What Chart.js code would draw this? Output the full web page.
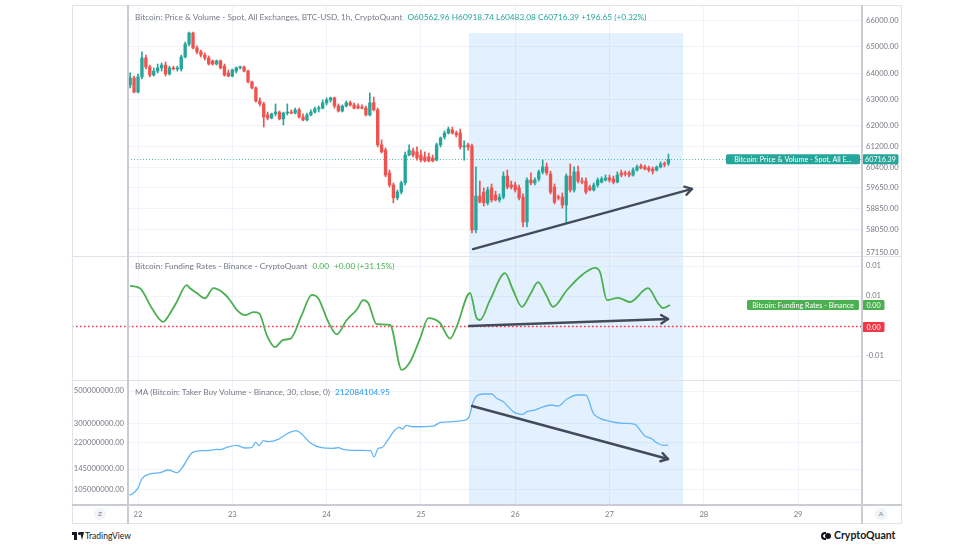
<!DOCTYPE html>
<html><head><meta charset="utf-8">
<script src="https://cdn.jsdelivr.net/npm/chart.js@4.4.1/dist/chart.umd.min.js"></script>
<style>
body{margin:0;background:#fff;width:975px;height:548px;position:relative;overflow:hidden;font-family:Lato,'Noto Sans',sans-serif}
canvas{position:absolute;display:block}
.hdr{position:absolute;white-space:nowrap;font-size:8.3px;color:#787b86;line-height:10px}
.ln{position:absolute;pointer-events:none}
.btn{position:absolute;width:12px;height:12px;border-radius:50%;background:#f0f3fa;color:#787b86;font-size:6.5px;line-height:12px;text-align:center}
</style></head><body>
<canvas id="cPrice" width="830" height="251" style="left:72px;top:5px"></canvas>
<canvas id="cFund" width="830" height="124" style="left:72px;top:256px"></canvas>
<canvas id="cVol" width="830" height="143" style="left:72px;top:380px"></canvas>

<div class="ln" style="left:72px;top:5px;width:830px;height:1px;background:#e0e3eb"></div>
<div class="ln" style="left:72px;top:523px;width:830px;height:1px;background:#e0e3eb"></div>
<div class="ln" style="left:72px;top:5px;width:1px;height:519px;background:#e0e3eb"></div>
<div class="ln" style="left:901px;top:5px;width:1px;height:519px;background:#e0e3eb"></div>
<div class="ln" style="left:72px;top:256px;width:830px;height:1px;background:#e0e3eb"></div>
<div class="ln" style="left:72px;top:380px;width:830px;height:1px;background:#e0e3eb"></div>
<div class="ln" style="left:72px;top:504px;width:830px;height:2px;background:#c9ccd3"></div>
<div class="ln" style="left:127px;top:5px;width:2px;height:519px;background:#c9ccd3"></div>
<div class="ln" style="left:861px;top:5px;width:2px;height:519px;background:#c9ccd3"></div>

<div class="btn" style="left:94px;top:508px">Z</div>
<div class="btn" style="left:875px;top:508px">A</div>

<div class="hdr" style="left:135px;top:12px">Bitcoin: Price &amp; Volume - Spot, All Exchanges, BTC-USD, 1h, CryptoQuant<span style="color:#26a69a;margin-left:5px">O60562.96 H60918.74 L60483.08 C60716.39 +196.65 (+0.32%)</span></div>
<div class="hdr" style="left:135px;top:261px">Bitcoin: Funding Rates - Binance - CryptoQuant<span style="color:#4caf50;margin-left:5px">0.00</span><span style="color:#4caf50;margin-left:5px">+0.00 (+31.15%)</span></div>
<div class="hdr" style="left:135px;top:387px">MA (Bitcoin: Taker Buy Volume - Binance, 30, close, 0)<span style="color:#2196f3;margin-left:5px">212084104.95</span></div>

<div style="position:absolute;left:72px;top:531px;height:10px;width:12px">
  <div style="position:absolute;left:0;top:1px;width:5px;height:3px;background:#131722"></div>
  <div style="position:absolute;left:2px;top:1px;width:3px;height:8px;background:#131722"></div>
  <div style="position:absolute;left:5.5px;top:1px;width:3px;height:3px;border-radius:50%;background:#131722"></div>
  <div style="position:absolute;left:6px;top:1px;width:0;height:0;border-left:2.5px solid transparent;border-right:2.5px solid transparent;border-top:8px solid #131722;transform:translateX(2px)"></div>
</div>
<div style="position:absolute;left:85px;top:530px;font-size:8.5px;color:#131722;line-height:12px">TradingView</div>
<div style="position:absolute;left:821px;top:531px;width:11px;height:10px">
  <div style="position:absolute;left:0;top:1px;width:5px;height:8px;border-radius:5px 0 0 5px;border:2px solid #131722;border-right:none;box-sizing:border-box"></div>
  <div style="position:absolute;left:4px;top:2px;width:6px;height:6px;border-radius:50%;background:#131722"></div>
</div>
<div style="position:absolute;left:834px;top:529px;font-size:10.5px;color:#131722;line-height:13px;font-weight:bold">CryptoQuant</div>

<script>
const FONT = 'Lato, "Noto Sans", sans-serif';
const UP = '#26a69a', DOWN = '#ef5350', GRID = '#f0f3fa', AXIS_TEXT = '#787b86';

// x axis: hours since 22 00:00
const dayLabels = ['22','23','24','25','26','27','28','29'];
const dayTickHours = [0,24,48,72,96,120,144,168];
const firstCandleHour = -2;

const open = [
63550,63820,63280,63860,64580,64240,63930,64080,64200,64310,
63970,64200,64160,64160,64620,65110,65530,64960,64810,64690,
64580,64470,64350,64470,64270,64010,63890,64080,64200,64240,
64080,63670,63440,62940,62830,62410,62290,62450,62520,62260,
62480,62520,62480,62600,62330,62220,62410,62520,62640,62670,
62870,62980,63060,62750,62560,62750,62870,62790,62750,62710,
62670,62410,62870,62600,61270,61070,60200,59740,59250,59470,
59820,60880,61040,61000,60880,60810,60810,60770,60690,61270,
61570,61720,61840,61720,61720,61190,61270,61230,58030,59320,
59470,59060,59630,59360,59170,59280,60080,59740,59740,59630,
59280,58330,59930,59820,59970,60240,60430,60160,59660,59280,
59280,58980,60080,59550,60240,59890,59890,59660,59550,59740,
59850,59930,60010,59970,59850,60200,60200,60200,60120,60310,
60460,60430,60390,60350,60310,60430,60540,60562.96];
const high = [
64010,63890,63970,64810,64690,64310,64200,64350,64390,64430,
64270,64270,64270,64690,65190,65570,65570,65040,64880,64770,
64660,64500,64500,64500,64350,64120,64160,64240,64270,64270,
64120,63700,63480,63060,62900,62520,62480,62830,62560,62520,
62830,62600,62670,62670,62450,62480,62600,62710,62750,62980,
63060,63090,63090,62830,62790,62940,62940,62870,62830,62790,
62750,63250,63090,62670,61460,61150,60310,59820,59550,59890,
61000,61270,61150,61190,61070,61000,60960,60880,61340,61570,
61800,61950,61950,61800,61870,61420,61340,61300,60430,59890,
59630,59660,59780,59510,59400,60240,60310,59890,59850,59740,
59400,60010,60200,60010,60310,60690,60580,60270,59780,59360,
59440,60160,60540,60430,60460,60010,60010,59740,59820,60010,
60050,60120,60120,60080,60240,60310,60270,60270,60390,60500,
60540,60500,60460,60430,60460,60620,60620,60918.74];
const low = [
63440,63250,63250,63780,64160,63860,63890,64010,64080,63890,
63930,64120,64080,64080,64580,65040,64920,64730,64620,64500,
64310,64310,64310,64160,63890,63860,63860,64010,64160,64050,
63630,63400,62900,62750,61950,62220,62260,62370,62220,62030,
62410,62450,62450,62290,62180,62180,62370,62480,62520,62640,
62790,62900,62670,62520,62520,62710,62750,62640,62640,62640,
62370,62370,62560,61190,60960,60050,59660,59060,59170,59400,
59740,60850,60810,60690,60620,60620,60620,60620,60660,61190,
61490,61680,61680,61570,61110,60690,61070,57910,57910,59060,
58940,58980,59090,59130,59090,59210,59590,59590,59470,59170,
58140,58140,59740,59740,59890,60160,60120,59400,59020,59170,
58860,58290,59470,59470,59820,59780,59400,59510,59510,59660,
59820,59890,59850,59780,59820,60050,60080,60050,60080,60270,
60350,60310,60240,60160,60270,60390,60430,60483.08];
const close = [
63820,63280,63860,64580,64240,63930,64080,64200,64310,63970,
64200,64160,64200,64620,65110,65530,64960,64810,64690,64580,
64350,64350,64470,64200,63930,63890,64120,64200,64240,64080,
63670,63440,62940,62830,62330,62290,62450,62520,62260,62480,
62520,62480,62600,62330,62220,62410,62520,62640,62670,62870,
62980,63060,62750,62560,62750,62870,62790,62670,62670,62670,
62410,62870,62600,61270,61000,60120,59740,59250,59470,59820,
60880,61070,60880,60770,60690,60660,60660,60660,61270,61530,
61720,61870,61720,61650,61190,61230,61190,58030,59320,59090,
59060,59550,59170,59170,59280,60080,59660,59660,59550,59250,
58330,59930,59820,59930,60240,60430,60200,59470,59090,59250,
58980,60080,59550,60240,59890,59850,59470,59550,59740,59930,
59970,60010,59930,59850,60120,60120,60160,60120,60310,60430,
60390,60350,60310,60270,60430,60540,60519.74,60716.39];
const priceTicks = [66000,65000,64000,63000,62000,61200,60400,59650,58850,58050,57150];

const fundingHours = [-2.04,0.51,3.49,6.44,8.14,9.85,12.39,13.23,14.94,17.05,19.17,21.71,23.42,25.12,27.23,29.35,30.87,32.76,34.87,36.98,38.86,41.66,44.21,45.89,48.43,50.57,53.12,55.66,57.34,58.62,60.75,64.14,67.12,69.23,71.77,73.89,76.86,79.41,81.11,84.5,86.2,87.04,89.59,93.41,95.44,97.73,99.77,101.81,103.84,105.62,109.19,113.0,116.31,117.58,119.37,122.17,125.22,129.8,132.35,133.62,135.4];
const fundingRates = [0.0067,0.0063,0.0030,0.0007,0.0021,0.0040,0.0068,0.0063,0.0055,0.0046,0.0063,0.0055,0.0043,0.0027,0.0018,0.0023,0.0021,-0.0015,-0.0035,-0.0023,-0.0021,0.0018,0.0052,0.0046,0.0007,-0.0014,0.0010,0.0027,0.0043,0.0038,0.0003,0.0002,-0.0073,-0.0060,-0.0021,0.0013,0.0005,-0.0021,-0.0001,0.0055,0.0013,0.0010,0.0043,0.0088,0.0060,0.0032,0.0052,0.0073,0.0052,0.0032,0.0060,0.0085,0.0097,0.0090,0.0043,0.0047,0.0040,0.0063,0.0038,0.0030,0.0035];
const fundingTicks = [0.01,0.005,0,-0.005];

const volumeHours = [-2.21,-1.2,0.08,0.94,3.05,5.6,7.71,10.0,11.12,13.92,16.21,18.33,20.03,20.87,22.58,24.94,27.23,28.94,29.96,30.8,31.89,33.16,35.71,37.85,40.21,41.66,43.78,46.75,49.71,50.98,52.25,54.8,56.94,59.23,60.07,61.16,62.03,63.3,65.16,66.51,67.37,68.21,70.07,75.16,77.04,80.25,82.39,84.07,85.34,86.21,87.89,90.02,91.3,92.98,95.52,96.39,97.91,98.93,101.04,102.75,105.29,106.97,109.11,111.66,113.77,114.36,115.88,117.59,120.13,123.52,126.5,127.77,129.04,130.75,132.02,133.7,134.97];
const volumeValues = [95.9e6,98.6e6,108.4e6,123.7e6,134.0e6,136.7e6,142.7e6,136.7e6,146.6e6,189.0e6,193.8e6,195.1e6,198.2e6,197.0e6,204.6e6,211.2e6,202.4e6,203.3e6,221.5e6,209.9e6,227.2e6,223.6e6,232.3e6,252.7e6,266.3e6,252.7e6,220.1e6,203.3e6,201.4e6,203.3e6,198.2e6,195.1e6,195.1e6,193.8e6,175.4e6,201.4e6,203.3e6,223.6e6,265.0e6,281.0e6,273.6e6,290.2e6,283.6e6,286.8e6,304.3e6,307.2e6,312.0e6,324.2e6,421.8e6,461.8e6,476.7e6,476.7e6,445.3e6,421.8e6,360.0e6,351.0e6,345.4e6,360.0e6,369.8e6,385.9e6,400.3e6,394.0e6,438.3e6,469.3e6,469.3e6,456.8e6,351.0e6,324.2e6,309.1e6,299.4e6,294.7e6,269.2e6,244.8e6,234.5e6,220.1e6,211.2e6,212084104.95];
const volumeTicks = [500000000,300000000,220000000,145000000,105000000];

// annotations (drawn objects)
const highlightHours = [84.25, 138.7];
const highlightTopPrice = 65530;
const priceArrowHours = [85.26, 141.0], priceArrowValues = [57300, 59590];
const fundingArrowHours = [84.25, 134.9], fundingArrowValues = [0, 0.00117];
const volumeArrowHours = [85.0, 134.9], volumeArrowValues = [394e6, 170e6];

// view ranges
const X_MIN = -2.55, X_MAX = 184.27;
const P_MIN = 57035, P_MAX = 66598;
const F_MIN = -0.009, F_MAX = 0.011667;
const V_MIN = 81.9e6, V_MAX = 595.4e6;

Chart.defaults.font.family = FONT;
Chart.defaults.color = AXIS_TEXT;

function xAxis(showLabels){
  return {
    type:'linear', min:X_MIN, max:X_MAX, offset:false,
    grid:{color:GRID, drawTicks:false, offset:false},
    border:{display:false},
    ticks:{display:showLabels, autoSkip:false, maxRotation:0, padding:5, color:AXIS_TEXT, font:{size:7.6},
      callback:(v,i)=>dayLabels[i]},
    afterBuildTicks:s=>{ s.ticks = dayTickHours.map(v=>({value:v})); },
    afterFit:s=>{ s.height = showLabels ? 18 : 0; s.paddingLeft = 0; s.paddingRight = 0; }
  };
}
function yAxis(position, type, min, max, ticks, width){
  return {
    type, position, min, max,
    grid:{color:GRID, drawTicks:false},
    border:{display:false},
    ticks:{padding:4, color:AXIS_TEXT, font:{size:7.6}, autoSkip:false, callback:v=>Number(v).toFixed(2)},
    afterBuildTicks:s=>{ s.ticks = ticks.map(v=>({value:v})); },
    afterFit:s=>{ s.width = width; s.paddingTop = 0; s.paddingBottom = 0; }
  };
}
const base = {responsive:false, animation:false, devicePixelRatio:1, events:[]};
const noPlug = {legend:{display:false}, tooltip:{enabled:false}};

function roundRect(ctx,x,y,w,h,r){
  ctx.beginPath(); ctx.moveTo(x+r,y); ctx.lineTo(x+w-r,y); ctx.quadraticCurveTo(x+w,y,x+w,y+r);
  ctx.lineTo(x+w,y+h-r); ctx.quadraticCurveTo(x+w,y+h,x+w-r,y+h); ctx.lineTo(x+r,y+h);
  ctx.quadraticCurveTo(x,y+h,x,y+h-r); ctx.lineTo(x,y+r); ctx.quadraticCurveTo(x,y,x+r,y); ctx.closePath();
}
function tag(ctx,x,yc,w,bg,text){
  ctx.save(); ctx.fillStyle=bg; roundRect(ctx,x,yc-5,w,10,1.5); ctx.fill();
  ctx.fillStyle='#fff'; ctx.font='7.2px '+FONT; ctx.textAlign='center'; ctx.textBaseline='middle';
  ctx.fillText(text,x+w/2,yc+0.5); ctx.restore();
}
function makeHighlight(topValue){
  return {id:'hl', beforeDatasetsDraw(chart){
    const {ctx, chartArea:a, scales} = chart;
    const x0 = scales.x.getPixelForValue(highlightHours[0]), x1 = scales.x.getPixelForValue(highlightHours[1]);
    const yTop = topValue!=null ? scales.y.getPixelForValue(topValue) : a.top;
    ctx.save(); ctx.fillStyle='rgba(33,150,243,0.13)'; ctx.fillRect(x0,yTop,x1-x0,a.bottom-yTop); ctx.restore();
  }};
}
const arrowHeads = {id:'arrowHeads', afterDatasetsDraw(chart){
  const ctx = chart.ctx;
  chart.data.datasets.forEach((ds,i)=>{
    if(!ds.isArrow) return;
    const pts = chart.getDatasetMeta(i).data;
    const p0 = pts[pts.length-2], p1 = pts[pts.length-1];
    const ang = Math.atan2(p1.y-p0.y, p1.x-p0.x), L = 8;
    ctx.save(); ctx.strokeStyle = ds.borderColor; ctx.lineWidth = ds.borderWidth; ctx.lineCap='round'; ctx.lineJoin='round';
    ctx.beginPath();
    ctx.moveTo(p1.x - L*Math.cos(ang-0.55), p1.y - L*Math.sin(ang-0.55));
    ctx.lineTo(p1.x, p1.y);
    ctx.lineTo(p1.x - L*Math.cos(ang+0.55), p1.y - L*Math.sin(ang+0.55));
    ctx.stroke(); ctx.restore();
  });
}};
function arrowDataset(hours, values){
  return {type:'line', isArrow:true, data:hours.map((h,i)=>({x:h,y:values[i]})),
    borderColor:'#434b5a', borderWidth:2.4, pointRadius:0, tension:0, borderCapStyle:'round', order:-5};
}

// ---- price chart ----
const n = close.length;
const candleIdx = close.map((_,i)=>i);
const colorOf = i => close[i] >= open[i] ? UP : DOWN;
const lastClose = close[n-1];
new Chart(document.getElementById('cPrice'), {
  type:'bar',
  data:{datasets:[
    {label:'wicks', data:candleIdx.map(i=>({x:firstCandleHour+i, y:[low[i],high[i]]})),
      backgroundColor:ctx=>colorOf(ctx.dataIndex), barThickness:1, grouped:false, order:2, minBarLength:1},
    {label:'bodies', data:candleIdx.map(i=>({x:firstCandleHour+i, y:[open[i],close[i]]})),
      backgroundColor:ctx=>colorOf(ctx.dataIndex), barThickness:2.7, grouped:false, order:1, minBarLength:1},
    arrowDataset(priceArrowHours, priceArrowValues)
  ]},
  options:Object.assign({}, base, {
    layout:{padding:{left:56, right:0, top:0, bottom:0}},
    plugins:noPlug,
    scales:{x:xAxis(false), y:yAxis('right','linear',P_MIN,P_MAX,priceTicks,40)}
  }),
  plugins:[makeHighlight(highlightTopPrice), arrowHeads, {
    id:'priceLine',
    beforeDatasetsDraw(chart){
      const {ctx, chartArea:a, scales} = chart; const y = Math.round(scales.y.getPixelForValue(lastClose))+0.5;
      ctx.save(); ctx.strokeStyle='rgba(38,166,154,0.75)'; ctx.lineWidth=1; ctx.setLineDash([1,2]);
      ctx.beginPath(); ctx.moveTo(a.left,y); ctx.lineTo(a.right,y); ctx.stroke(); ctx.restore();
    },
    afterDraw(chart){
      const {ctx, chartArea:a, scales} = chart; const y = scales.y.getPixelForValue(lastClose);
      tag(ctx, a.right-136, y, 134, '#26a69a', 'Bitcoin: Price & Volume - Spot, All E...');
      tag(ctx, a.right+0.5, y, 36, '#26a69a', lastClose.toFixed(2));
    }
  }]
});

// ---- funding chart ----
const lastFunding = fundingRates[fundingRates.length-1];
new Chart(document.getElementById('cFund'), {
  type:'line',
  data:{datasets:[
    {data:fundingHours.map((h,i)=>({x:h,y:fundingRates[i]})), borderColor:'#4caf50', borderWidth:1.8,
      pointRadius:0, cubicInterpolationMode:'monotone', order:1},
    arrowDataset(fundingArrowHours, fundingArrowValues)
  ]},
  options:Object.assign({}, base, {
    layout:{padding:{left:56, right:0, top:0, bottom:0}},
    plugins:noPlug,
    scales:{x:xAxis(false), y:yAxis('right','linear',F_MIN,F_MAX,fundingTicks,40)}
  }),
  plugins:[makeHighlight(null), arrowHeads, {
    id:'zeroLine',
    beforeDatasetsDraw(chart){
      const {ctx, chartArea:a, scales} = chart; const y = Math.round(scales.y.getPixelForValue(0))+0.5;
      ctx.save(); ctx.strokeStyle='#f23645'; ctx.lineWidth=1.4; ctx.setLineDash([1.5,2.5]);
      ctx.beginPath(); ctx.moveTo(a.left-56,y); ctx.lineTo(a.right,y); ctx.stroke(); ctx.restore();
    },
    afterDraw(chart){
      const {ctx, chartArea:a, scales} = chart;
      const y1 = scales.y.getPixelForValue(lastFunding), y0 = scales.y.getPixelForValue(0);
      tag(ctx, a.right-115, y1, 112, '#4caf50', 'Bitcoin: Funding Rates - Binance');
      tag(ctx, a.right+0.5, y1, 22, '#4caf50', lastFunding.toFixed(2));
      tag(ctx, a.right+0.5, y0+1, 22, '#f23645', (0).toFixed(2));
    }
  }]
});

// ---- volume MA chart ----
new Chart(document.getElementById('cVol'), {
  type:'line',
  data:{datasets:[
    {data:volumeHours.map((h,i)=>({x:h,y:volumeValues[i]})), borderColor:'#64b5f6', borderWidth:1.3,
      pointRadius:0, cubicInterpolationMode:'monotone', order:1},
    arrowDataset(volumeArrowHours, volumeArrowValues)
  ]},
  options:Object.assign({}, base, {
    layout:{padding:{left:0, right:40, top:0, bottom:0}},
    plugins:noPlug,
    scales:{x:xAxis(true), y:yAxis('left','logarithmic',V_MIN,V_MAX,volumeTicks,56)}
  }),
  plugins:[makeHighlight(null), arrowHeads]
});
</script>
</body></html>
